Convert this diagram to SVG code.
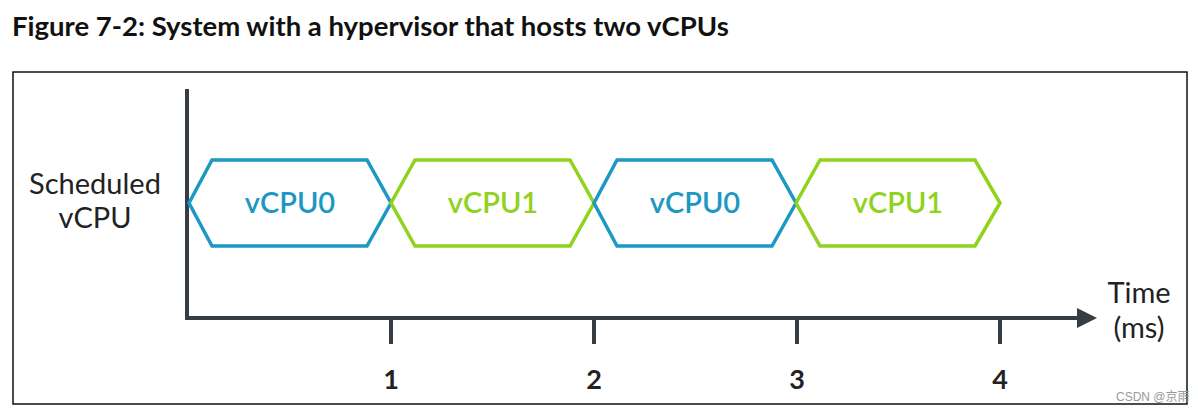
<svg xmlns="http://www.w3.org/2000/svg" width="1198" height="415" viewBox="0 0 1198 415">
<style>
.title{font-family:Lato,"Liberation Sans",sans-serif;font-weight:700;font-size:27.5px;fill:#111}
.lbl{font-family:Lato,"Liberation Sans",sans-serif;font-size:29px;fill:#222}
.num{font-family:Lato,"Liberation Sans",sans-serif;font-weight:700;font-size:27px;fill:#222;text-anchor:middle}
.hex{fill:#fff;stroke-width:3.5;stroke-linejoin:miter}
.b{stroke:#1c98c2}
.g{stroke:#90d21c}
.ht{font-family:Lato,"Liberation Sans",sans-serif;font-weight:600;font-size:29px;text-anchor:middle}
.axis{stroke:#363d45;stroke-width:4;fill:none}
.wm{font-family:"Liberation Sans","Noto Sans CJK SC",sans-serif;font-size:12px;fill:#999}
</style>
<defs>
<marker id="arr" markerWidth="5" markerHeight="5" refX="0" refY="2.5" orient="auto" markerUnits="strokeWidth">
<path d="M0,0 L5,2.5 L0,5 Z" fill="#363d45"/>
</marker>
</defs>
<rect width="1198" height="415" fill="#fff"/>
<text class="title" x="12" y="36">Figure 7-2: System with a hypervisor that hosts two vCPUs</text>
<rect x="13" y="72" width="1174" height="332" fill="none" stroke="#111" stroke-width="1.5"/>
<g id="ylabel">
<text class="lbl" x="95" y="194" text-anchor="middle">Scheduled</text>
<text class="lbl" x="95" y="228" text-anchor="middle">vCPU</text>
</g>
<g id="connectors">
<line class="axis" x1="187" y1="89" x2="187" y2="318"/>
<line class="axis" x1="185" y1="318" x2="1077" y2="318" marker-end="url(#arr)"/>
<line class="axis" x1="391" y1="318" x2="391" y2="344"/>
<line class="axis" x1="594" y1="318" x2="594" y2="344"/>
<line class="axis" x1="797" y1="318" x2="797" y2="344"/>
<line class="axis" x1="1000" y1="318" x2="1000" y2="344"/>
</g>
<g id="slot1">
<polygon class="hex b" points="189,203 212,160 367,160 391,203 367,246 212,246"/>
<text class="ht" x="290" y="213" fill="#1c98c2">vCPU0</text>
</g>
<g id="slot2">
<polygon class="hex g" points="391,203 415,160 570,160 594,203 570,246 415,246"/>
<text class="ht" x="493" y="213" fill="#90d21c">vCPU1</text>
</g>
<g id="slot3">
<polygon class="hex b" points="594,203 617,160 772,160 796,203 772,246 617,246"/>
<text class="ht" x="695" y="213" fill="#1c98c2">vCPU0</text>
</g>
<g id="slot4">
<polygon class="hex g" points="796,203 820,160 975,160 1000,203 975,246 820,246"/>
<text class="ht" x="898" y="213" fill="#90d21c">vCPU1</text>
</g>
<g id="ticks">
<text class="num" x="391" y="389">1</text>
<text class="num" x="594" y="389">2</text>
<text class="num" x="797" y="389">3</text>
<text class="num" x="1000" y="389">4</text>
</g>
<g id="xlabel">
<text class="lbl" x="1139" y="303" text-anchor="middle">Time</text>
<text class="lbl" x="1139" y="338" text-anchor="middle">(ms)</text>
</g>
<text class="wm" x="1116" y="401">CSDN @京雨</text>
</svg>
